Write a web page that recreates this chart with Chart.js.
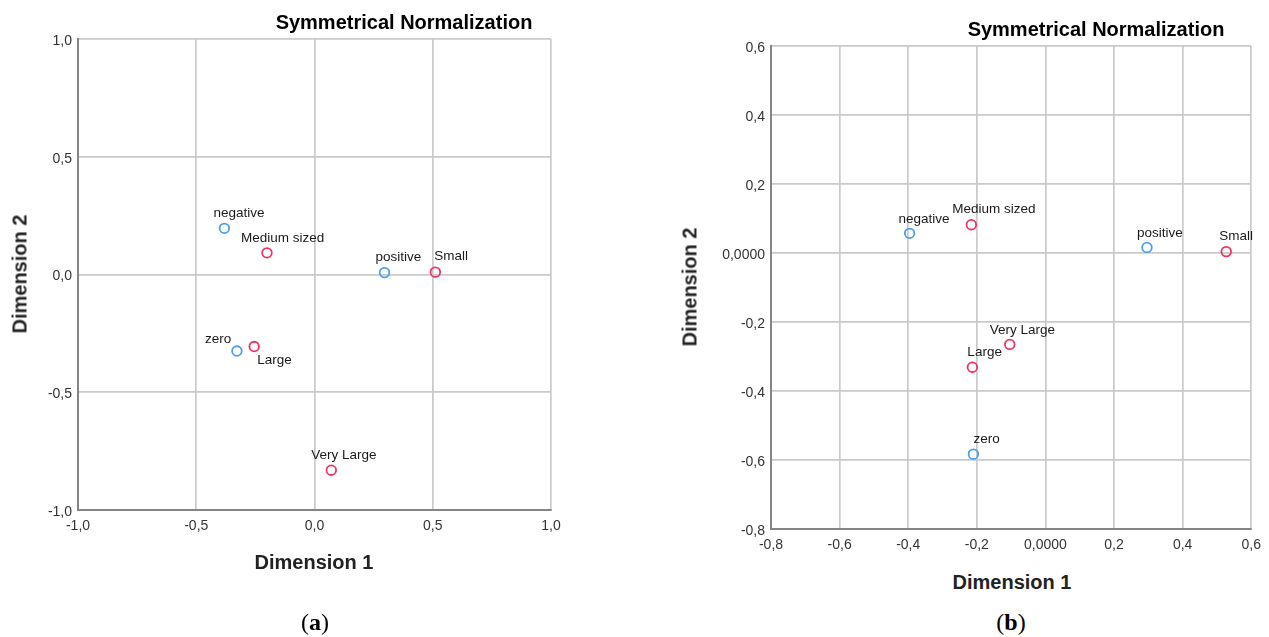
<!DOCTYPE html>
<html>
<head>
<meta charset="utf-8">
<script src="https://cdn.jsdelivr.net/npm/chart.js@4"></script>
<style>
  html, body { margin: 0; padding: 0; background: #fff; }
  body { width: 1269px; height: 637px; position: relative; overflow: hidden; font-family: "Liberation Sans", Arial, sans-serif; }
  .box { position: absolute; }
  .title { position: absolute; font-weight: bold; font-size: 20px; color: #000; white-space: nowrap; transform: translate(-50%, -50%); }
  .axt { position: absolute; font-weight: bold; font-size: 20px; color: #222; white-space: nowrap; transform: translate(-50%, -50%); }
  .axt.rot { transform: translate(-50%, -50%) rotate(-90deg); }
  .cap { position: absolute; font-family: "Liberation Serif", "DejaVu Serif", serif; font-size: 24px; color: #000; white-space: nowrap; transform: translate(-50%, -50%); }
  .cap b { font-weight: bold; }
</style>
</head>
<body>
<div class="box" style="left:0;top:0;width:600px;height:560px;"><canvas id="ca"></canvas></div>
<div class="box" style="left:640px;top:0;width:629px;height:560px;"><canvas id="cb"></canvas></div>

<div class="title" style="left:404px;top:22px;">Symmetrical Normalization</div>
<div class="title" style="left:1096px;top:29px;">Symmetrical Normalization</div>
<div class="axt" style="left:314px;top:562px;">Dimension 1</div>
<div class="axt" style="left:1012px;top:582px;">Dimension 1</div>
<div class="axt rot" style="left:20px;top:274px;">Dimension 2</div>
<div class="axt rot" style="left:690px;top:287px;">Dimension 2</div>
<div class="cap" style="left:315px;top:622px;">(<b>a</b>)</div>
<div class="cap" style="left:1011px;top:622px;">(<b>b</b>)</div>

<script>
// ---------- Data: chart (a) ----------
const aSignLabels = ['negative', 'positive', 'zero'];
const aSignX = [-0.381, 0.296, -0.328];
const aSignY = [0.196, 0.008, -0.325];
const aSizeLabels = ['Medium sized', 'Small', 'Large', 'Very Large'];
const aSizeX = [-0.201, 0.511, -0.255, 0.071];
const aSizeY = [0.092, 0.010, -0.306, -0.831];
const aTickValues = [-1, -0.5, 0, 0.5, 1];
const aXTickLabels = ['-1,0', '-0,5', '0,0', '0,5', '1,0'];
const aYTickLabels = ['-1,0', '-0,5', '0,0', '0,5', '1,0'];

// ---------- Data: chart (b) ----------
const bSignLabels = ['negative', 'positive', 'zero'];
const bSignX = [-0.396, 0.296, -0.210];
const bSignY = [0.057, 0.016, -0.583];
const bSizeLabels = ['Medium sized', 'Small', 'Large', 'Very Large'];
const bSizeX = [-0.216, 0.527, -0.213, -0.104];
const bSizeY = [0.082, 0.004, -0.331, -0.265];
const bTickValues = [-0.8, -0.6, -0.4, -0.2, 0, 0.2, 0.4, 0.6];
const bXTickLabels = ['-0,8', '-0,6', '-0,4', '-0,2', '0,0000', '0,2', '0,4', '0,6'];
const bYTickLabels = ['-0,8', '-0,6', '-0,4', '-0,2', '0,0000', '0,2', '0,4', '0,6'];

// ---------- Styles ----------
const BLUE = '#4f9fe6';
const RED = '#ee3560';
const GRID = '#cacaca';
const AXIS = '#858585';
const FONT = '"Liberation Sans", Arial, sans-serif';

// label placement offsets (px, relative to point), style only
const aOffsets = {
  'negative': [-11, -15], 'positive': [-9, -15], 'zero': [-32, -12],
  'Medium sized': [-26, -15], 'Small': [-1, -16], 'Large': [3, 14], 'Very Large': [-20, -15]
};
const bOffsets = {
  'negative': [-11, -14], 'positive': [-10, -14], 'zero': [0, -15],
  'Medium sized': [-19, -15], 'Small': [-7, -15], 'Large': [-5, -15], 'Very Large': [-20, -14]
};

function pts(xs, ys, labels) {
  return xs.map((x, i) => ({ x: x, y: ys[i], label: labels[i] }));
}

const pointLabelPlugin = {
  id: 'pointLabels',
  afterDatasetsDraw(chart, args, opts) {
    const ctx = chart.ctx;
    ctx.save();
    ctx.font = '13.5px ' + FONT;
    ctx.fillStyle = '#1a1a1a';
    ctx.textAlign = 'left';
    ctx.textBaseline = 'middle';
    chart.data.datasets.forEach((ds, di) => {
      const meta = chart.getDatasetMeta(di);
      meta.data.forEach((el, i) => {
        const lab = ds.data[i].label;
        const off = opts.offsets[lab] || [0, -14];
        ctx.fillText(lab, el.x + off[0], el.y + off[1]);
      });
    });
    ctx.restore();
  }
};

function makeChart(id, cfg) {
  const scaleBase = (values, labels, axisW, isX) => ({
    type: 'linear',
    min: values[0],
    max: values[values.length - 1],
    afterBuildTicks: (axis) => { axis.ticks = values.map(v => ({ value: v })); },
    afterFit: (axis) => { if (isX) axis.height = axisW; else axis.width = axisW; },
    ticks: {
      autoSkip: false,
      maxRotation: 0,
      padding: isX ? 8 : 6,
      labelOffset: isX ? 0 : 2,
      color: '#333',
      font: { family: FONT, size: 14 },
      callback: (v, i) => labels[i]
    },
    grid: { color: GRID, lineWidth: 1.7, drawTicks: false },
    border: { color: AXIS, width: 2 }
  });
  return new Chart(document.getElementById(id), {
    type: 'scatter',
    data: {
      datasets: [
        { label: 'sign', data: cfg.signData, pointStyle: 'circle', pointRadius: 4.8, pointBorderWidth: 1.8,
          borderColor: BLUE, backgroundColor: 'rgba(255,255,255,0)' },
        { label: 'size', data: cfg.sizeData, pointStyle: 'circle', pointRadius: 4.8, pointBorderWidth: 1.8,
          borderColor: RED, backgroundColor: 'rgba(255,255,255,0)' }
      ]
    },
    options: {
      responsive: true,
      maintainAspectRatio: false,
      animation: false,
      layout: { padding: cfg.padding },
      plugins: {
        legend: { display: false },
        title: { display: false },
        tooltip: { enabled: false },
        pointLabels: { offsets: cfg.offsets }
      },
      scales: {
        x: scaleBase(cfg.ticks, cfg.xLabels, cfg.xAxisH, true),
        y: scaleBase(cfg.ticks, cfg.yLabels, cfg.yAxisW, false)
      }
    },
    plugins: [pointLabelPlugin]
  });
}

makeChart('ca', {
  signData: pts(aSignX, aSignY, aSignLabels),
  sizeData: pts(aSizeX, aSizeY, aSizeLabels),
  ticks: aTickValues, xLabels: aXTickLabels, yLabels: aYTickLabels,
  padding: { left: 0, top: 39, right: 49, bottom: 0 },
  yAxisW: 78, xAxisH: 50,
  offsets: aOffsets
});

makeChart('cb', {
  signData: pts(bSignX, bSignY, bSignLabels),
  sizeData: pts(bSizeX, bSizeY, bSizeLabels),
  ticks: bTickValues, xLabels: bXTickLabels, yLabels: bYTickLabels,
  padding: { left: 0, top: 46, right: 13, bottom: 0 },
  yAxisW: 131, xAxisH: 31,
  offsets: bOffsets
});
</script>
</body>
</html>
